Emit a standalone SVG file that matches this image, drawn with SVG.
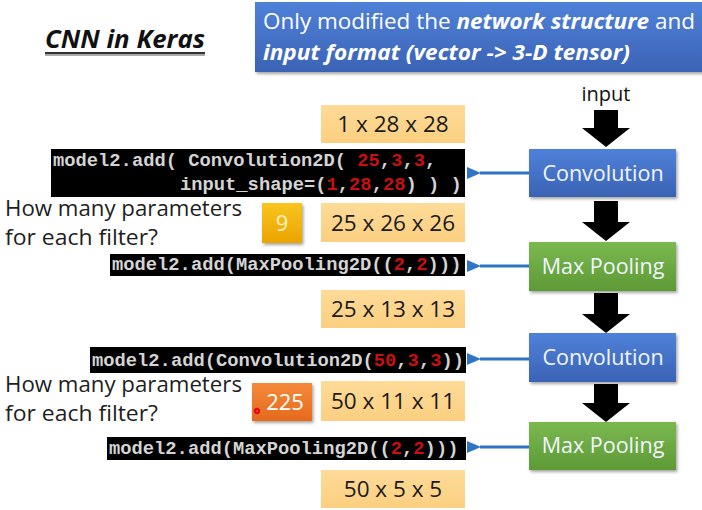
<svg xmlns="http://www.w3.org/2000/svg" width="702" height="510" viewBox="0 0 702 510">
<defs>
<linearGradient id="gBlue" x1="0" y1="0" x2="0" y2="1"><stop offset="0" stop-color="#4f81d9"/><stop offset="1" stop-color="#3b63b5"/></linearGradient>
<linearGradient id="gGreen" x1="0" y1="0" x2="0" y2="1"><stop offset="0" stop-color="#7bb84f"/><stop offset="1" stop-color="#5d9a36"/></linearGradient>
<linearGradient id="gYel" x1="0" y1="0" x2="0" y2="1"><stop offset="0" stop-color="#fedb98"/><stop offset="1" stop-color="#fbcf80"/></linearGradient>
<linearGradient id="gGold" x1="0" y1="0" x2="0" y2="1"><stop offset="0" stop-color="#f9c420"/><stop offset="1" stop-color="#eba400"/></linearGradient>
<linearGradient id="gOr" x1="0" y1="0" x2="0" y2="1"><stop offset="0" stop-color="#f58a3a"/><stop offset="1" stop-color="#e46a1c"/></linearGradient>
<radialGradient id="gDot"><stop offset="0" stop-color="#ff3030"/><stop offset="0.5" stop-color="#e01010"/><stop offset="1" stop-color="#ff8080" stop-opacity="0"/></radialGradient>
<marker id="ah" viewBox="0 0 14 12" refX="1" refY="6" markerWidth="14" markerHeight="12" orient="auto-start-reverse" markerUnits="userSpaceOnUse"><path d="M0,6 L14,0 L14,12 Z" fill="#2e75c6"/></marker>
<filter id="sh" x="-5%" y="-10%" width="115%" height="130%"><feDropShadow dx="1.5" dy="2" stdDeviation="1.5" flood-color="#000" flood-opacity="0.35"/></filter>
</defs>
<style>
.sans{font-family:"Open Sans","Noto Sans",sans-serif}
.code{font-family:"Liberation Mono","DejaVu Sans Mono",monospace;font-weight:bold;font-size:18.8px;fill:#d4d4d4}
.r{fill:#c81010}
.cbox{fill:#000}
.ybox{fill:url(#gYel)}
.ytxt{font-family:"Open Sans","Noto Sans",sans-serif;font-size:22.5px;fill:#1a1a1a;text-anchor:middle}
.blk{fill:#000}
.lbl{font-family:"Open Sans","Noto Sans",sans-serif;font-size:21.5px;fill:#f2f6ff;text-anchor:middle}
.q{font-family:"Open Sans","Noto Sans",sans-serif;font-size:21px;fill:#1e1e1e}
.conn{stroke:#2e75c6;stroke-width:3;fill:none}
</style>
<rect width="702" height="510" fill="#ffffff"/>

<g id="title">
<text x="45" y="48" class="sans" font-size="25" font-weight="bold" font-style="italic" fill="#111" textLength="160" lengthAdjust="spacingAndGlyphs">CNN in Keras</text>
<rect x="45" y="52" width="160" height="2" fill="#333"/>
<rect x="45" y="54" width="160" height="2" fill="#aaa"/>
</g>

<g id="note">
<rect x="255" y="2" width="460" height="70" fill="url(#gBlue)" filter="url(#sh)"/>
<text x="263" y="29" class="sans" font-size="22" fill="#fff" textLength="432" lengthAdjust="spacingAndGlyphs">Only modified the <tspan font-weight="bold" font-style="italic">network structure</tspan> and</text>
<text x="263" y="60" class="sans" font-size="22" fill="#fff" font-style="italic" font-weight="bold" textLength="367" lengthAdjust="spacingAndGlyphs">input format (vector -&gt; 3-D tensor)</text>
</g>

<g id="input-label"><text x="606" y="101" class="sans" font-size="20" fill="#111" text-anchor="middle">input</text></g>

<g id="shape1"><rect x="321" y="105" width="144" height="38" class="ybox"/><text x="393" y="132" class="ytxt">1 x 28 x 28</text></g>
<g id="shape2"><rect x="321" y="203" width="144" height="39" class="ybox"/><text x="393" y="231" class="ytxt">25 x 26 x 26</text></g>
<g id="shape3"><rect x="321" y="290" width="144" height="38" class="ybox"/><text x="393" y="317" class="ytxt">25 x 13 x 13</text></g>
<g id="shape4"><rect x="321" y="381" width="144" height="40" class="ybox"/><text x="393" y="409" class="ytxt">50 x 11 x 11</text></g>
<g id="shape5"><rect x="321" y="470" width="144" height="38" class="ybox"/><text x="393" y="497" class="ytxt">50 x 5 x 5</text></g>

<g id="code1">
<rect x="51" y="149" width="414" height="48" class="cbox"/>
<text x="53" y="166" class="code" xml:space="preserve">model2.add( Convolution2D( <tspan class="r">25</tspan>,<tspan class="r">3</tspan>,<tspan class="r">3</tspan>,</text>
<text x="180" y="190" class="code" xml:space="preserve">input_shape=(<tspan class="r">1</tspan>,<tspan class="r">28</tspan>,<tspan class="r">28</tspan>) ) )</text>
</g>
<g id="code2">
<rect x="110" y="254" width="355" height="22" class="cbox"/>
<text x="112" y="270" class="code" xml:space="preserve">model2.add(MaxPooling2D((<tspan class="r">2</tspan>,<tspan class="r">2</tspan>)))</text>
</g>
<g id="code3">
<rect x="90" y="347" width="376" height="26" class="cbox"/>
<text x="92" y="366" class="code" xml:space="preserve">model2.add(Convolution2D(<tspan class="r">50</tspan>,<tspan class="r">3</tspan>,<tspan class="r">3</tspan>))</text>
</g>
<g id="code4">
<rect x="107" y="437" width="359" height="23" class="cbox"/>
<text x="109" y="454" class="code" xml:space="preserve">model2.add(MaxPooling2D((<tspan class="r">2</tspan>,<tspan class="r">2</tspan>)))</text>
</g>

<g id="question1">
<text x="5" y="216" class="q" textLength="237" lengthAdjust="spacingAndGlyphs">How many parameters</text>
<text x="5" y="245" class="q" textLength="153" lengthAdjust="spacingAndGlyphs">for each filter?</text>
</g>
<g id="question2">
<text x="5" y="392" class="q" textLength="237" lengthAdjust="spacingAndGlyphs">How many parameters</text>
<text x="5" y="421" class="q" textLength="153" lengthAdjust="spacingAndGlyphs">for each filter?</text>
</g>

<g id="answer1"><rect x="262" y="203" width="40" height="40" fill="url(#gGold)" filter="url(#sh)"/><text x="282" y="231" class="sans" font-size="22" fill="#fff4c4" text-anchor="middle">9</text></g>
<g id="answer2"><rect x="252" y="383" width="60" height="38" fill="url(#gOr)" filter="url(#sh)"/><text x="285" y="410" class="sans" font-size="22" fill="#fff" text-anchor="middle">225</text>
<circle cx="257" cy="411" r="5" fill="url(#gDot)" opacity="0.8"/><circle cx="257" cy="411" r="2.2" fill="none" stroke="#d00" stroke-width="1.2"/></g>

<g id="conv1"><rect x="529" y="149" width="147" height="48" fill="url(#gBlue)" filter="url(#sh)"/><text x="603" y="181" class="lbl">Convolution</text></g>
<g id="pool1"><rect x="529" y="242" width="147" height="49" fill="url(#gGreen)" filter="url(#sh)"/><text x="603" y="274" class="lbl">Max Pooling</text></g>
<g id="conv2"><rect x="529" y="333" width="147" height="49" fill="url(#gBlue)" filter="url(#sh)"/><text x="603" y="365" class="lbl">Convolution</text></g>
<g id="pool2"><rect x="529" y="422" width="147" height="48" fill="url(#gGreen)" filter="url(#sh)"/><text x="603" y="453" class="lbl">Max Pooling</text></g>

<g id="connectors">
<path class="blk" d="M594,110 H618 V128 H630 L606,147 L582,128 H594 Z"/>
<path class="blk" d="M594,201 H618 V222 H630 L606,241 L582,222 H594 Z"/>
<path class="blk" d="M594,293 H618 V314 H630 L606,333 L582,314 H594 Z"/>
<path class="blk" d="M594,384 H618 V403 H630 L606,422 L582,403 H594 Z"/>
<line class="conn" x1="529" y1="173" x2="480" y2="173" marker-end="url(#ah)"/>
<line class="conn" x1="529" y1="266" x2="480" y2="266" marker-end="url(#ah)"/>
<line class="conn" x1="529" y1="359" x2="480" y2="359" marker-end="url(#ah)"/>
<line class="conn" x1="529" y1="447" x2="480" y2="447" marker-end="url(#ah)"/>
</g>
</svg>
